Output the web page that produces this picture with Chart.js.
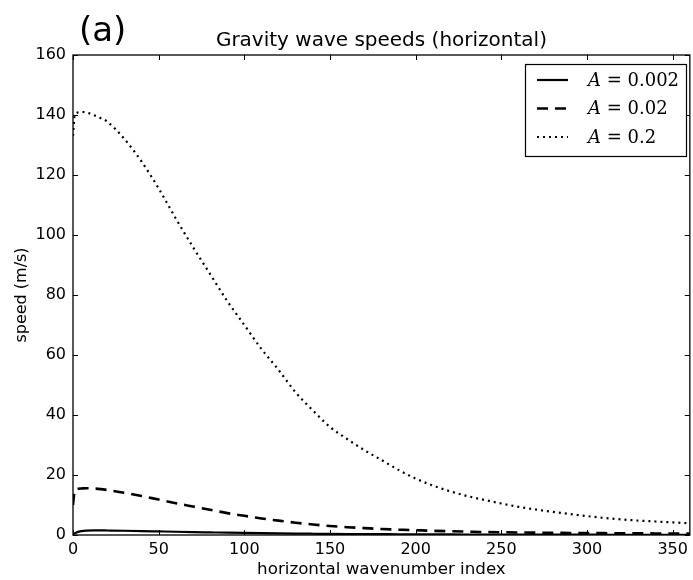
<!DOCTYPE html>
<html>
<head>
<meta charset="utf-8">
<script src="https://cdn.jsdelivr.net/npm/chart.js@4.4.1/dist/chart.umd.min.js"></script>
<style>
  html, body { margin: 0; padding: 0; background: #fff; }
  #wrap { width: 693px; height: 580px; }
</style>
</head>
<body>
<div id="wrap"><canvas id="c" width="693" height="580"></canvas></div>
<script>
// ---- data ----
const kIndex = [0, 1, 2, 3, 5, 8, 12, 16, 20, 30, 40, 50, 60, 70, 80, 90, 100, 110, 120, 130, 140, 150,
  160, 170, 180, 190, 200, 210, 220, 230, 240, 250, 260, 270, 280, 290, 300, 310, 320, 330, 340, 350, 360];

const speedA0002 = [0.15, 0.55, 0.85, 1.05, 1.3, 1.45, 1.52, 1.53, 1.5, 1.42, 1.32, 1.2, 1.08, 0.97, 0.87,
  0.77, 0.68, 0.6, 0.53, 0.47, 0.42, 0.37, 0.33, 0.3, 0.27, 0.24, 0.22, 0.2, 0.18, 0.165, 0.15, 0.14,
  0.13, 0.12, 0.11, 0.1, 0.095, 0.09, 0.085, 0.08, 0.075, 0.07, 0.065];

const speedA002 = [10, 14.8, 15.2, 15.4, 15.5, 15.6, 15.5, 15.3, 15.0, 14.1, 13.0, 11.8, 10.6, 9.5, 8.4,
  7.3, 6.4, 5.5, 4.8, 4.1, 3.5, 3.0, 2.6, 2.3, 2.0, 1.8, 1.6, 1.4, 1.25, 1.12, 1.0, 0.92, 0.85, 0.79,
  0.74, 0.69, 0.65, 0.61, 0.58, 0.55, 0.52, 0.5, 0.48];

const speedA02 = [133, 140, 140.6, 140.9, 141, 140.8, 140, 139, 137.8, 132, 124.5, 115.5, 105.5, 96, 87,
  78, 70, 62, 55, 47.5, 41.5, 36, 32, 28.3, 25, 21.7, 18.8, 16.5, 14.6, 13, 11.7, 10.5, 9.4, 8.5,
  7.7, 7, 6.3, 5.7, 5.2, 4.8, 4.5, 4.2, 3.9];

const seriesLabels = ['A = 0.002', 'A = 0.02', 'A = 0.2'];
const xTickLabels = [0, 50, 100, 150, 200, 250, 300, 350];
const yTickLabels = [0, 20, 40, 60, 80, 100, 120, 140, 160];

const chartTitle = 'Gravity wave speeds (horizontal)';
const panelLabel = '(a)';
const xAxisTitle = 'horizontal wavenumber index';
const yAxisTitle = 'speed (m/s)';

// ---- styles ----
const FONT = "'DejaVu Sans', sans-serif";
const lineStyles = [
  { width: 2.2, dash: [] },
  { width: 2.6, dash: [11, 7] },
  { width: 2.2, dash: [2, 4] }
];

function toPoints(vals) { return kIndex.map((k, i) => ({ x: k, y: vals[i] })); }
const allSeries = [speedA0002, speedA002, speedA02];

const decorPlugin = {
  id: 'decor',
  afterDatasetsDraw(chart) {
    const { ctx, chartArea: a, scales: { x, y } } = chart;
    ctx.save();
    ctx.strokeStyle = '#000';
    ctx.lineWidth = 1.3;
    ctx.setLineDash([]);
    ctx.strokeRect(a.left, a.top, a.right - a.left, a.bottom - a.top);
    const tl = 5;
    ctx.lineWidth = 1;
    ctx.beginPath();
    xTickLabels.forEach(v => {
      const px = Math.round(x.getPixelForValue(v)) + 0.5;
      ctx.moveTo(px, a.bottom); ctx.lineTo(px, a.bottom - tl);
      ctx.moveTo(px, a.top); ctx.lineTo(px, a.top + tl);
    });
    yTickLabels.forEach(v => {
      const py = Math.round(y.getPixelForValue(v)) + 0.5;
      ctx.moveTo(a.left, py); ctx.lineTo(a.left + tl, py);
      ctx.moveTo(a.right, py); ctx.lineTo(a.right - tl, py);
    });
    ctx.stroke();
    ctx.restore();
  },
  afterDraw(chart) {
    const { ctx, chartArea: a } = chart;
    ctx.save();
    // title
    ctx.fillStyle = '#000';
    ctx.font = '20px ' + FONT;
    ctx.textAlign = 'center';
    ctx.textBaseline = 'alphabetic';
    ctx.fillText(chartTitle, (a.left + a.right) / 2, 46);
    // panel label
    ctx.font = '34px ' + FONT;
    ctx.textAlign = 'left';
    ctx.fillText(panelLabel, 79, 41);
    // legend
    const bx = 525, by = 64, bw = 161, bh = 92;
    ctx.fillStyle = '#fff';
    ctx.fillRect(bx, by, bw, bh);
    ctx.strokeStyle = '#000';
    ctx.lineWidth = 1.2;
    ctx.strokeRect(bx + 0.5, by + 0.5, bw, bh);
    const rows = [80, 108.5, 137];
    chart.data.datasets.forEach((ds, i) => {
      const ry = rows[i];
      ctx.beginPath();
      ctx.lineWidth = ds.borderWidth;
      ctx.setLineDash(ds.borderDash || []);
      ctx.moveTo(537, ry); ctx.lineTo(568, ry);
      ctx.stroke();
      ctx.setLineDash([]);
      const lbl = ds.label;
      const first = lbl.charAt(0);
      const rest = lbl.slice(1);
      ctx.fillStyle = '#000';
      ctx.textBaseline = 'middle';
      ctx.font = 'italic 18px "DejaVu Serif", serif';
      ctx.fillText(first, 588, ry + 1);
      const w = ctx.measureText(first).width;
      ctx.font = '18px "DejaVu Serif", serif';
      ctx.fillText(rest, 588 + w, ry + 1);
    });
    ctx.restore();
  }
};

new Chart(document.getElementById('c'), {
  type: 'line',
  data: {
    datasets: allSeries.map((vals, i) => ({
      label: seriesLabels[i],
      data: toPoints(vals),
      borderColor: '#000',
      backgroundColor: '#000',
      borderWidth: lineStyles[i].width,
      borderDash: lineStyles[i].dash,
      pointRadius: 0,
      fill: false,
      cubicInterpolationMode: 'monotone'
    }))
  },
  options: {
    responsive: false,
    animation: false,
    layout: { padding: { top: 55, right: 1, bottom: 0, left: 0 } },
    plugins: {
      legend: { display: false },
      title: { display: false },
      tooltip: { enabled: false }
    },
    scales: {
      x: {
        type: 'linear',
        min: 0, max: 360,
        afterBuildTicks(s) { s.ticks = xTickLabels.map(v => ({ value: v })); },
        afterFit(s) { s.height = 45; },
        grid: { display: false, drawTicks: false },
        border: { display: false },
        ticks: { color: '#000', font: { family: FONT, size: 16 }, padding: 5, maxRotation: 0 },
        title: { display: true, text: xAxisTitle, color: '#000', font: { family: FONT, size: 16.7 }, padding: { top: 0, bottom: 0 } }
      },
      y: {
        type: 'linear',
        min: 0, max: 160,
        afterBuildTicks(s) { s.ticks = yTickLabels.map(v => ({ value: v })); },
        afterFit(s) { s.width = 73; },
        grid: { display: false, drawTicks: false },
        border: { display: false },
        ticks: { color: '#000', font: { family: FONT, size: 16 }, padding: 7 },
        title: { display: true, text: yAxisTitle, color: '#000', font: { family: FONT, size: 16 }, padding: { top: 12, bottom: 0 } }
      }
    }
  },
  plugins: [decorPlugin]
});
</script>
</body>
</html>
